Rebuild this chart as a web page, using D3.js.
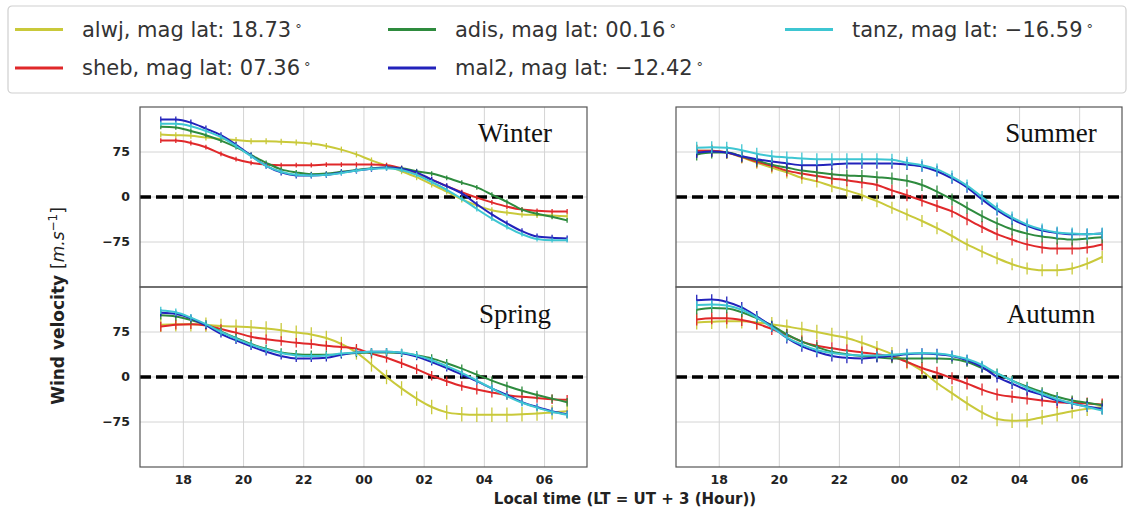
<!DOCTYPE html>
<html>
<head>
<meta charset="utf-8">
<script src="https://cdn.jsdelivr.net/npm/d3@7"></script>
<style>
  body { margin: 0; background: #fff; }
  text { font-family: "DejaVu Sans", sans-serif; }
</style>
</head>
<body>
<script>
var w = 1133,
    h = 517;

// stations, in legend order (column by column)
var stations = ["alwj", "sheb", "adis", "mal2", "tanz"];
var magLat = ["18.73", "07.36", "00.16", "\u221212.42", "\u221216.59"];
var color = ["#c9c93a", "#e0282a", "#2e8b3e", "#2222bb", "#3ec6d2"];

var seasons = ["Winter", "Summer", "Spring", "Autumn"];

// local time in hours (24 = 00 LT)
var hours = [17.25, 17.75, 18.25, 18.75, 19.25, 19.75, 20.25, 20.75, 21.25, 21.75,
             22.25, 22.75, 23.25, 23.75, 24.25, 24.75, 25.25, 25.75, 26.25, 26.75,
             27.25, 27.75, 28.25, 28.75, 29.25, 29.75, 30.25, 30.75];

var tickHours = [18, 20, 22, 24, 26, 28, 30];
var tickLabels = ["18", "20", "22", "00", "02", "04", "06"];
var yTicks = [-75, 0, 75];

// wind velocity, one row per station (alwj, sheb, adis, mal2, tanz)
var winter = [
  [104, 103, 102, 99, 97, 95, 93, 93, 92, 91, 89, 85, 79, 71, 61, 52, 43, 33, 21, 9, -4, -14, -22, -26, -29, -30, -31, -32],
  [94, 94, 90, 83, 72, 63, 57, 54, 53, 53, 53, 54, 54, 54, 54, 53, 48, 39, 29, 18, 8, -1, -9, -16, -21, -23, -24, -24],
  [117, 116, 110, 103, 94, 83, 70, 57, 46, 41, 38, 39, 42, 45, 48, 49, 48, 43, 39, 32, 24, 16, 4, -8, -21, -28, -33, -39],
  [129, 129, 124, 114, 103, 87, 69, 52, 41, 36, 36, 37, 41, 44, 47, 49, 47, 41, 29, 18, 6, -12, -29, -44, -57, -66, -68, -69],
  [122, 122, 118, 110, 100, 85, 68, 52, 42, 37, 36, 37, 40, 44, 47, 48, 45, 37, 25, 12, -3, -20, -36, -50, -62, -70, -72, -72]
];
var summer = [
  [77, 77, 74, 66, 57, 49, 41, 32, 26, 18, 11, 3, -7, -18, -29, -40, -52, -65, -79, -91, -102, -112, -119, -122, -122, -119, -111, -100],
  [77, 77, 74, 67, 59, 52, 44, 39, 35, 31, 28, 24, 20, 11, 3, -6, -15, -24, -37, -50, -62, -71, -79, -84, -86, -86, -84, -79],
  [71, 74, 74, 68, 61, 54, 49, 44, 41, 38, 36, 35, 33, 31, 27, 20, 9, -4, -18, -32, -44, -54, -61, -66, -69, -71, -69, -67],
  [74, 76, 74, 68, 63, 59, 56, 53, 53, 54, 56, 56, 56, 56, 54, 51, 43, 31, 16, -4, -22, -37, -48, -56, -60, -62, -62, -61],
  [82, 83, 82, 78, 72, 68, 66, 64, 63, 63, 63, 63, 63, 62, 57, 53, 46, 34, 19, 0, -19, -34, -46, -54, -59, -61, -62, -61]
];
var spring = [
  [87, 88, 88, 87, 85, 84, 83, 81, 78, 74, 71, 65, 55, 41, 21, 0, -19, -36, -50, -59, -62, -63, -63, -63, -62, -61, -59, -57],
  [84, 87, 88, 86, 80, 74, 67, 63, 60, 57, 55, 52, 50, 47, 39, 32, 23, 13, 2, -7, -15, -21, -26, -30, -33, -35, -37, -38],
  [103, 101, 95, 87, 76, 65, 55, 47, 41, 38, 37, 37, 38, 40, 41, 41, 40, 36, 31, 23, 14, 4, -6, -15, -23, -30, -36, -42],
  [107, 105, 98, 86, 72, 61, 51, 42, 35, 31, 31, 32, 37, 41, 42, 42, 40, 34, 25, 15, 4, -7, -19, -30, -42, -50, -57, -62],
  [111, 108, 99, 88, 75, 64, 54, 46, 40, 36, 35, 36, 39, 41, 42, 42, 41, 36, 28, 18, 7, -6, -19, -32, -43, -51, -58, -63]
];
var autumn = [
  [91, 92, 93, 93, 91, 88, 84, 80, 75, 70, 65, 57, 48, 38, 25, 10, -10, -27, -44, -59, -70, -73, -72, -67, -62, -57, -53, -50],
  [96, 98, 98, 95, 89, 80, 70, 59, 52, 48, 44, 41, 38, 34, 25, 15, 7, -2, -11, -21, -29, -33, -36, -39, -42, -43, -44, -46],
  [112, 115, 114, 108, 98, 86, 71, 59, 50, 42, 38, 35, 33, 31, 31, 31, 31, 30, 25, 15, 6, -6, -16, -25, -33, -39, -43, -47],
  [128, 129, 125, 116, 101, 84, 65, 51, 42, 35, 32, 31, 33, 35, 38, 39, 38, 35, 28, 17, 0, -11, -22, -30, -39, -44, -49, -53],
  [120, 121, 119, 112, 99, 83, 66, 54, 45, 40, 37, 36, 36, 37, 39, 40, 39, 36, 30, 20, 6, -6, -18, -28, -37, -44, -50, -56]
];
// error bar half-length per station
var winterErr = [5, 4, 4, 5, 4];
var summerErr = [10, 10, 10, 9, 10];
var springErr = [12, 8, 7, 6, 6];
var autumnErr = [12, 10, 8, 9, 7];

var seasonData = [winter, summer, spring, autumn];
var seasonErr = [winterErr, summerErr, springErr, autumnErr];

// panel layout: winter top-left, summer top-right, spring bottom-left, autumn bottom-right
var panels = [
  {x: 140, y: 107, w: 447, h: 180, left: true,  bottom: false},
  {x: 676, y: 107, w: 446, h: 180, left: false, bottom: false},
  {x: 140, y: 287, w: 447, h: 180, left: true,  bottom: true},
  {x: 676, y: 287, w: 446, h: 180, left: false, bottom: true}
];

var svg = d3.select("body")
          .append("svg")
          .attr("width", w)
          .attr("height", h);

svg.append("rect")
   .attr("width", w)
   .attr("height", h)
   .attr("fill", "#fff");

panels.forEach(function(p, i) {
  var x = d3.scaleLinear().domain([16.56, 31.41]).range([0, p.w]);
  var y = d3.scaleLinear().domain([-150, 150]).range([p.h, 0]);

  var g = svg.append("g")
             .attr("transform", "translate(" + p.x + "," + p.y + ")");

  // grid
  g.selectAll(".vgrid")
   .data(tickHours)
   .enter().append("line")
   .attr("x1", function(d) { return x(d); })
   .attr("x2", function(d) { return x(d); })
   .attr("y1", 0)
   .attr("y2", p.h)
   .attr("stroke", "#d4d4d4")
   .attr("stroke-width", 1);

  g.selectAll(".hgrid")
   .data(yTicks)
   .enter().append("line")
   .attr("x1", 0)
   .attr("x2", p.w)
   .attr("y1", function(d) { return y(d); })
   .attr("y2", function(d) { return y(d); })
   .attr("stroke", "#d4d4d4")
   .attr("stroke-width", 1);

  // zero reference
  g.append("line")
   .attr("x1", 0)
   .attr("x2", p.w)
   .attr("y1", y(0))
   .attr("y2", y(0))
   .attr("stroke", "#000")
   .attr("stroke-width", 3.5)
   .attr("stroke-dasharray", "11,5");

  var line = d3.line()
               .x(function(d, k) { return x(hours[k]); })
               .y(function(d) { return y(d); })
               .curve(d3.curveMonotoneX);

  seasonData[i].forEach(function(vals, s) {
    var err = seasonErr[i][s];
    g.selectAll(".err" + s)
     .data(vals)
     .enter().append("line")
     .attr("x1", function(d, k) { return x(hours[k]); })
     .attr("x2", function(d, k) { return x(hours[k]); })
     .attr("y1", function(d) { return y(d - err); })
     .attr("y2", function(d) { return y(d + err); })
     .attr("stroke", color[s])
     .attr("stroke-width", 1.3);

    g.append("path")
     .attr("d", line(vals))
     .attr("fill", "none")
     .attr("stroke", color[s])
     .attr("stroke-width", 2);
  });

  // season label
  g.append("text")
   .text(seasons[i])
   .attr("x", 375)
   .attr("y", i < 2 ? 35 : 36)
   .attr("text-anchor", "middle")
   .style("font-family", "'Liberation Serif', 'Times New Roman', serif")
   .style("font-size", "27px")
   .attr("fill", "#111");

  g.append("rect")
   .attr("width", p.w)
   .attr("height", p.h)
   .attr("fill", "none")
   .attr("stroke", "#555")
   .attr("stroke-width", 1.2);

  if (p.left) {
    g.selectAll(".ytick")
     .data(yTicks)
     .enter().append("text")
     .text(function(d) { return d3.format("d")(d); })
     .attr("x", -10)
     .attr("y", function(d) { return y(d); })
     .attr("dy", "0.35em")
     .attr("text-anchor", "end")
     .style("font-size", "12.5px")
     .style("font-weight", "bold")
     .attr("fill", "#222");
  }

  if (p.bottom) {
    g.selectAll(".xtick")
     .data(tickHours)
     .enter().append("text")
     .text(function(d, k) { return tickLabels[k]; })
     .attr("x", function(d) { return x(d); })
     .attr("y", p.h + 17)
     .attr("text-anchor", "middle")
     .style("font-size", "12.5px")
     .style("font-weight", "bold")
     .attr("fill", "#222");
  }
});

// axis titles
svg.append("text")
   .text("Local time (LT = UT + 3 (Hour))")
   .attr("x", 625)
   .attr("y", 504)
   .attr("text-anchor", "middle")
   .style("font-size", "15px")
   .style("font-weight", "bold")
   .attr("fill", "#222");

var ylab = svg.append("text")
   .attr("transform", "translate(64,306) rotate(-90)")
   .attr("text-anchor", "middle")
   .style("font-size", "17px")
   .attr("fill", "#222");
ylab.append("tspan").text("Wind velocity ").style("font-weight", "bold");
ylab.append("tspan").text("[");
ylab.append("tspan").text("m.s").style("font-style", "italic");
ylab.append("tspan").text("\u22121").attr("dy", -7).style("font-size", "12px");
ylab.append("tspan").text("]").attr("dy", 7);

// legend
svg.append("rect")
   .attr("x", 8)
   .attr("y", 6)
   .attr("width", 1118)
   .attr("height", 87)
   .attr("rx", 4)
   .attr("fill", "#fff")
   .attr("stroke", "#cfcfcf")
   .attr("stroke-width", 1.2);

var legCols = [15, 388, 785];
var legRows = [29.5, 68];

var leg = svg.selectAll(".leg")
   .data(stations)
   .enter().append("g")
   .attr("transform", function(d, k) {
     return "translate(" + legCols[Math.floor(k / 2)] + "," + legRows[k % 2] + ")";
   });

leg.append("line")
   .attr("x1", 0)
   .attr("x2", 48)
   .attr("stroke", function(d, k) { return color[k]; })
   .attr("stroke-width", 3);

var legText = leg.append("text")
   .attr("x", 67)
   .attr("dy", "0.35em")
   .style("font-size", "21px")
   .attr("fill", "#333");
legText.append("tspan")
   .text(function(d, k) { return d + ", mag lat: " + magLat[k]; });
legText.append("tspan")
   .text("\u00b0")
   .attr("dx", 4)
   .attr("dy", -4)
   .style("font-size", "13px");
</script>
</body>
</html>
